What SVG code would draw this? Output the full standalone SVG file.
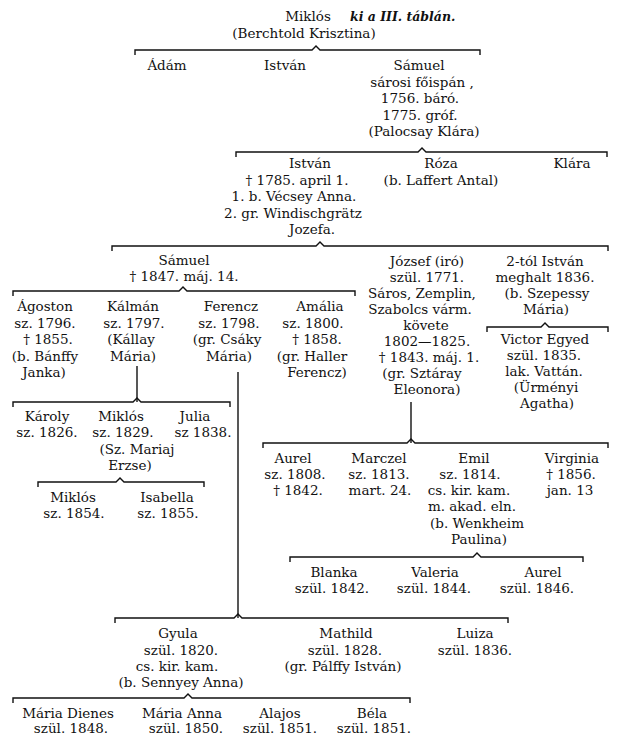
<svg xmlns="http://www.w3.org/2000/svg" width="618" height="744" viewBox="0 0 618 744">
<style>
text{font-family:"DejaVu Serif","Liberation Serif",serif;font-size:13.5px;fill:#111;text-anchor:middle}
.it{font-style:italic;font-weight:bold;font-size:12.5px;text-anchor:start}
.c path{fill:none;stroke:#111;stroke-width:1.4}
</style>
<rect width="618" height="744" fill="#fff"/>
<g class="c" id="connectors">
<path d="M135,55 V50 H312 L316,46 L320,50 H480 V55"/>
<path d="M236,157 V152 H418 L422,148 L426,152 H607 V157"/>
<path d="M112,251 V246 H316 L320,242 L324,246 H608 V251"/>
<path d="M13,296 V291 H179 L183,287 L187,291 H355 V296"/>
<path d="M487,332 V327 H541 L545,323 L549,327 H608 V332"/>
<path d="M137,366 V402"/>
<path d="M13,407 V402 H133 L137,398 L141,402 H230 V407"/>
<path d="M38,487 V482 H116 L120,478 L124,482 H204 V487"/>
<path d="M238,372 V618"/>
<path d="M411,402 V443"/>
<path d="M263,448 V443 H407 L411,439 L415,443 H608 V448"/>
<path d="M290,562 V557 H473 L477,553 L481,557 H583 V562"/>
<path d="M115,623 V618 H234 L238,614 L242,618 H508 V623"/>
<path d="M13,703 V698 H184 L188,694 L192,698 H410 V703"/>
</g>
<g id="miklos">
<text x="308" y="21">Miklós</text>
<text class="it" x="350" y="21">ki a III. táblán.</text>
<text x="304" y="38">(Berchtold Krisztina)</text>
</g>
<g id="adam"><text x="167" y="70">Ádám</text></g>
<g id="istvan1"><text x="285" y="70">István</text></g>
<g id="samuel1">
<text x="419" y="70">Sámuel</text>
<text x="422" y="86.5">sárosi főispán ,</text>
<text x="420" y="103">1756. báró.</text>
<text x="420" y="119.5">1775. gróf.</text>
<text x="424" y="136">(Palocsay Klára)</text>
</g>
<g id="istvan2">
<text x="310" y="168">István</text>
<text x="297" y="184.5">† 1785. april 1.</text>
<text x="294" y="201">1. b. Vécsey Anna.</text>
<text x="293" y="217.5">2. gr. Windischgrätz</text>
<text x="312" y="234">Jozefa.</text>
</g>
<g id="roza">
<text x="441" y="168">Róza</text>
<text x="441" y="184.5">(b. Laffert Antal)</text>
</g>
<g id="klara"><text x="572" y="168">Klára</text></g>
<g id="samuel2">
<text x="184" y="265">Sámuel</text>
<text x="184" y="281">† 1847. máj. 14.</text>
</g>
<g id="jozsef">
<text x="427" y="266">József (iró)</text>
<text x="427" y="282">szül. 1771.</text>
<text x="422" y="298">Sáros, Zemplin,</text>
<text x="420" y="314">Szabolcs várm.</text>
<text x="426" y="330">követe</text>
<text x="427" y="346">1802—1825.</text>
<text x="429" y="362">† 1843. máj. 1.</text>
<text x="422" y="378">(gr. Sztáray</text>
<text x="427" y="394">Eleonora)</text>
</g>
<g id="istvan3">
<text x="545" y="266">2-tól István</text>
<text x="545" y="282">meghalt 1836.</text>
<text x="547" y="298">(b. Szepessy</text>
<text x="546" y="314">Mária)</text>
</g>
<g id="victor">
<text x="545" y="344">Victor Egyed</text>
<text x="544" y="360">szül. 1835.</text>
<text x="544" y="376">lak. Vattán.</text>
<text x="546" y="392">(Ürményi</text>
<text x="547" y="408">Agatha)</text>
</g>
<g id="agoston">
<text x="45" y="311">Ágoston</text>
<text x="45" y="327.5">sz. 1796.</text>
<text x="48" y="344">† 1855.</text>
<text x="45" y="360.5">(b. Bánffy</text>
<text x="44" y="377">Janka)</text>
</g>
<g id="kalman">
<text x="133" y="311">Kálmán</text>
<text x="134" y="327.5">sz. 1797.</text>
<text x="131" y="344">(Kállay</text>
<text x="133" y="360.5">Mária)</text>
</g>
<g id="ferencz">
<text x="231" y="311">Ferencz</text>
<text x="229" y="327.5">sz. 1798.</text>
<text x="227" y="344">(gr. Csáky</text>
<text x="229" y="360.5">Mária)</text>
</g>
<g id="amalia">
<text x="320" y="311">Amália</text>
<text x="313" y="327.5">sz. 1800.</text>
<text x="317" y="344">† 1858.</text>
<text x="312" y="360.5">(gr. Haller</text>
<text x="317" y="377">Ferencz)</text>
</g>
<g id="karoly">
<text x="47" y="421">Károly</text>
<text x="47" y="437">sz. 1826.</text>
</g>
<g id="miklos2">
<text x="121" y="421">Miklós</text>
<text x="123" y="437">sz. 1829.</text>
<text x="137" y="454">(Sz. Mariaj</text>
<text x="130" y="470">Erzse)</text>
</g>
<g id="julia">
<text x="195" y="421">Julia</text>
<text x="203" y="437">sz 1838.</text>
</g>
<g id="miklos3">
<text x="73" y="502">Miklós</text>
<text x="74" y="518">sz. 1854.</text>
</g>
<g id="isabella">
<text x="167" y="502">Isabella</text>
<text x="168" y="518">sz. 1855.</text>
</g>
<g id="aurel1">
<text x="293" y="463">Aurel</text>
<text x="295" y="479">sz. 1808.</text>
<text x="298" y="495">† 1842.</text>
</g>
<g id="marczel">
<text x="379" y="463">Marczel</text>
<text x="379" y="479">sz. 1813.</text>
<text x="380" y="495">mart. 24.</text>
</g>
<g id="emil">
<text x="474" y="463">Emil</text>
<text x="470" y="479">sz. 1814.</text>
<text x="469" y="495">cs. kir. kam.</text>
<text x="472" y="511">m. akad. eln.</text>
<text x="477" y="528">(b. Wenkheim</text>
<text x="479" y="544">Paulina)</text>
</g>
<g id="virginia">
<text x="572" y="463">Virginia</text>
<text x="571" y="479">† 1856.</text>
<text x="570" y="495">jan. 13</text>
</g>
<g id="blanka">
<text x="334" y="577">Blanka</text>
<text x="332" y="593">szül. 1842.</text>
</g>
<g id="valeria">
<text x="435" y="577">Valeria</text>
<text x="434" y="593">szül. 1844.</text>
</g>
<g id="aurel2">
<text x="543" y="577">Aurel</text>
<text x="537" y="593">szül. 1846.</text>
</g>
<g id="gyula">
<text x="178" y="638">Gyula</text>
<text x="181" y="654.5">szül. 1820.</text>
<text x="177" y="670.5">cs. kir. kam.</text>
<text x="181" y="687">(b. Sennyey Anna)</text>
</g>
<g id="mathild">
<text x="346" y="638">Mathild</text>
<text x="345" y="654.5">szül. 1828.</text>
<text x="343" y="670.5">(gr. Pálffy István)</text>
</g>
<g id="luiza">
<text x="475" y="638">Luiza</text>
<text x="475" y="654.5">szül. 1836.</text>
</g>
<g id="maria-dienes">
<text x="68" y="718">Mária Dienes</text>
<text x="71" y="733">szül. 1848.</text>
</g>
<g id="maria-anna">
<text x="182" y="718">Mária Anna</text>
<text x="186" y="733">szül. 1850.</text>
</g>
<g id="alajos">
<text x="280" y="718">Alajos</text>
<text x="280" y="733">szül. 1851.</text>
</g>
<g id="bela">
<text x="372" y="718">Béla</text>
<text x="374" y="733">szül. 1851.</text>
</g>
</svg>
